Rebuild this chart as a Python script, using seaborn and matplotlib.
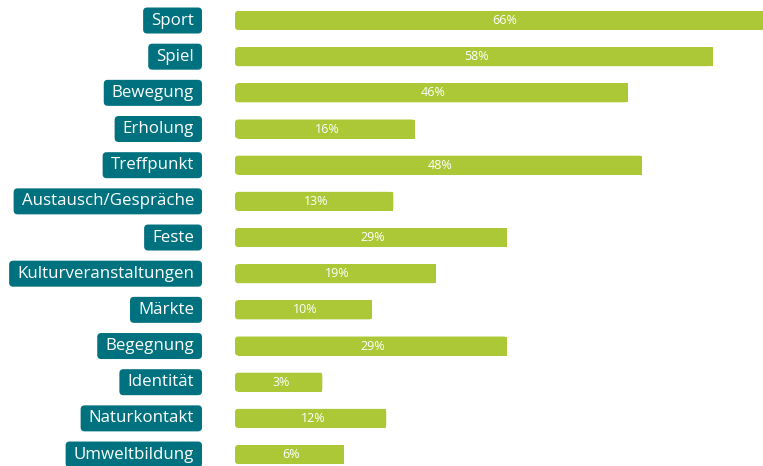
import matplotlib
matplotlib.use("Agg")
import matplotlib.pyplot as plt
from matplotlib.patches import FancyBboxPatch, Rectangle
from matplotlib.transforms import IdentityTransform
import pandas as pd
import seaborn as sns

categories = [
    "Sport", "Spiel", "Bewegung", "Erholung", "Treffpunkt",
    "Austausch/Gespräche", "Feste", "Kulturveranstaltungen", "Märkte",
    "Begegnung", "Identität", "Naturkontakt", "Umweltbildung",
]
values = [66, 58, 46, 16, 48, 13, 29, 19, 10, 29, 3, 12, 6]
value_labels = [f"{v}%" for v in values]

BAR_COLOR = "#adc837"
TAG_COLOR = "#00717e"

sns.set_theme(style="white")
plt.rcParams["font.family"] = ["Open Sans", "DejaVu Sans"]

W, H, DPI = 763, 466, 100
fig = plt.figure(figsize=(W / DPI, H / DPI), dpi=DPI)
fig.patch.set_facecolor("white")

# plot area: bars begin at a fixed lead-in left of the zero line
lead = 9.3
ax = fig.add_axes([235 / W, 0, (W - 235) / W, 1])
ax.patch.set_alpha(0)

df = pd.DataFrame({"Kategorie": categories, "Anteil": values})
sns.barplot(data=df, y="Kategorie", x="Anteil", orient="h", color=BAR_COLOR,
            saturation=1, width=0.525, ax=ax)

ax.set_xlim(-lead, 65.07)
ax.set_ylim(12.317, -0.567)
ax.axis("off")

# pixel scales of the two axes, for rounding the left bar ends
px_x = (W - 235) / (65.07 + lead)
px_y = H / (12.317 + 0.567)
radius_px = 3.0
r_x = radius_px / px_x
aspect = (radius_px / px_y) / r_x

for p in list(ax.patches):
    y0, h, w = p.get_y(), p.get_height(), p.get_width()
    p.remove()
    ax.add_patch(FancyBboxPatch((-lead, y0), w + lead, h,
                                boxstyle=f"round,pad=0,rounding_size={r_x}",
                                mutation_aspect=aspect, fc=BAR_COLOR, ec="none",
                                zorder=2))
    ax.add_patch(Rectangle((-lead + r_x, y0), w + lead - r_x, h,
                           fc=BAR_COLOR, ec="none", zorder=2))

for i, (v, lab) in enumerate(zip(values, value_labels)):
    ax.text((v - lead) / 2 + 0.3, i, lab, ha="center", va="center",
            color="white", fontsize=9, zorder=3)

# category tags to the left of the bars
tag_x = (194 - 235) / (W - 235)
tags = []
for i, cat in enumerate(categories):
    t = ax.text(tag_x, i, cat, transform=ax.get_yaxis_transform(),
                ha="right", va="center", color="white", fontsize=12.15,
                clip_on=False, zorder=4)
    tags.append(t)

fig.canvas.draw()
renderer = fig.canvas.get_renderer()
for t in tags:
    bb = t.get_window_extent(renderer)
    cy = (bb.y0 + bb.y1) / 2
    box = FancyBboxPatch((bb.x0 - 8, cy - 13), bb.width + 16, 26,
                         boxstyle="round,pad=0,rounding_size=4",
                         transform=IdentityTransform(), fc=TAG_COLOR,
                         ec="none", clip_on=False, zorder=3)
    ax.add_artist(box)

fig.savefig("out.png", dpi=DPI)
